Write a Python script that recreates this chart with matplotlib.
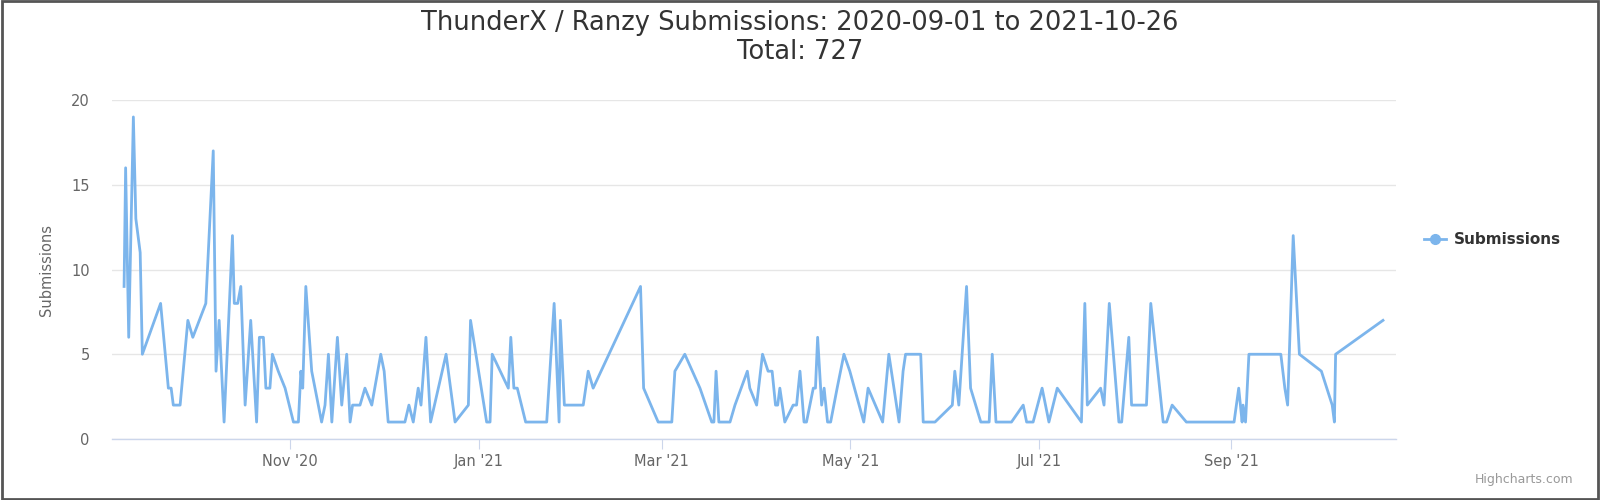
import matplotlib
matplotlib.use('Agg')
import matplotlib.pyplot as plt
import matplotlib.dates as mdates
from matplotlib.lines import Line2D
from matplotlib.patches import Rectangle
import pandas as pd

# days after 2020-09-01
days = [7.4, 7.9, 8.9, 10.4, 11.2, 12.6, 13.3, 19.2, 21.7, 22.6,
        23.3, 25.5, 28.0, 29.6, 33.8, 36.2, 37.1, 38.1, 39.7, 42.4,
        43.0, 44.1, 45.1, 46.5, 48.3, 50.2, 51.1, 52.4, 53.2, 54.5,
        55.3, 57.2, 59.4, 62.1, 63.7, 64.5, 65.1, 66.1, 68.0, 71.2,
        72.3, 73.4, 74.5, 76.3, 77.7, 79.3, 80.4, 81.2, 83.6, 85.2,
        87.4, 90.3, 91.4, 92.7, 98.1, 99.4, 100.8, 102.4, 103.3, 104.9,
        106.4, 111.4, 114.3, 118.6, 119.3, 124.5, 125.6, 126.3, 131.5, 132.3,
        133.3, 134.4, 137.1, 143.9, 146.3, 147.9, 148.3, 149.6, 155.7, 157.3,
        158.9, 174.2, 175.2, 179.9, 184.3, 185.3, 188.5, 193.4, 197.2, 197.9,
        198.6, 199.5, 203.1, 204.7, 208.7, 209.5, 211.7, 213.6, 215.4, 216.7,
        217.8, 218.5, 219.2, 220.8, 223.5, 224.6, 225.7, 227.0, 227.8, 230.0,
        230.7, 231.4, 232.7, 233.5, 234.6, 235.6, 237.7, 239.9, 241.8, 246.3,
        247.7, 252.4, 254.4, 257.7, 259.0, 259.8, 264.7, 265.5, 269.3, 274.9,
        275.7, 277.0, 279.5, 280.8, 284.1, 286.8, 287.8, 289.0, 294.0, 297.8,
        298.9, 301.0, 303.9, 306.1, 308.8, 316.6, 317.7, 318.5, 322.8, 323.9,
        325.6, 328.7, 329.6, 331.9, 332.8, 337.6, 339.0, 343.0, 344.1, 345.9,
        350.5, 365.9, 367.4, 368.5, 368.8, 369.6, 370.7, 381.0, 382.3, 383.2,
        385.0, 387.0, 394.1, 397.6, 398.3, 398.7, 414.0]
submissions = [9, 16, 6, 19, 13, 11, 5, 8, 3, 3,
               2, 2, 7, 6, 8, 17, 4, 7, 1, 12,
               8, 8, 9, 2, 7, 1, 6, 6, 3, 3,
               5, 4, 3, 1, 1, 4, 3, 9, 4, 1,
               2, 5, 1, 6, 2, 5, 1, 2, 2, 3,
               2, 5, 4, 1, 1, 2, 1, 3, 2, 6,
               1, 5, 1, 2, 7, 1, 1, 5, 3, 6,
               3, 3, 1, 1, 8, 1, 7, 2, 2, 4,
               3, 9, 3, 1, 1, 4, 5, 3, 1, 1,
               4, 1, 1, 2, 4, 3, 2, 5, 4, 4,
               2, 2, 3, 1, 2, 2, 4, 1, 1, 3,
               3, 6, 2, 3, 1, 1, 3, 5, 4, 1,
               3, 1, 5, 1, 4, 5, 5, 1, 1, 2,
               4, 2, 9, 3, 1, 1, 5, 1, 1, 2,
               1, 1, 3, 1, 3, 1, 8, 2, 3, 2,
               8, 1, 1, 6, 2, 2, 8, 1, 1, 2,
               1, 1, 3, 1, 2, 1, 5, 5, 3, 2,
               12, 5, 4, 2, 1, 5, 7]

title = 'ThunderX / Ranzy Submissions: 2020-09-01 to 2021-10-26'
subtitle = 'Total: 727'

start = pd.Timestamp('2020-09-01')
dates = start + pd.to_timedelta(days, unit='D')

plt.rcParams['font.family'] = ['DejaVu Sans']
fig = plt.figure(figsize=(16, 5), dpi=100)
ax = fig.add_axes([0.07, 0.122, 0.8025, 0.678])

blue = '#7cb5ec'
ax.plot(dates, submissions, color=blue, lw=2, solid_joinstyle='round')

ax.set_ylim(0, 20)
ax.set_yticks([0, 5, 10, 15, 20])
ax.set_xlim(start + pd.Timedelta(days=3.5), start + pd.Timedelta(days=418.2))
ax.xaxis.set_major_locator(mdates.MonthLocator(bymonth=[1, 3, 5, 7, 9, 11]))
ax.xaxis.set_major_formatter(mdates.DateFormatter("%b '%y"))

ax.grid(axis='y', color='#e6e6e6', lw=1)
ax.set_axisbelow(True)
for s in ['top', 'right', 'left']:
    ax.spines[s].set_visible(False)
ax.spines['bottom'].set_color('#ccd6eb')
ax.spines['bottom'].set_linewidth(1)
ax.tick_params(axis='y', length=0, pad=16, labelsize=10.5, labelcolor='#666666')
ax.tick_params(axis='x', length=7, width=0.8, color='#ccd6eb', pad=4,
               labelsize=10.5, labelcolor='#666666')
ax.set_ylabel('Submissions', fontsize=10.5, color='#666666', labelpad=12)

fig.text(0.5, 0.954, title, ha='center', va='center', fontsize=18.5, color='#333333')
fig.text(0.5, 0.896, subtitle, ha='center', va='center', fontsize=18.5, color='#333333')

# legend
fig.add_artist(Line2D([1424 / 1600, 1446 / 1600], [1 - 239 / 500] * 2, color=blue, lw=2))
fig.add_artist(Line2D([1435 / 1600], [1 - 239 / 500], color=blue, marker='o', markersize=7, lw=0))
fig.text(1454 / 1600, 1 - 239 / 500, 'Submissions', ha='left', va='center',
         fontsize=11, fontweight='bold', color='#333333')

fig.text(1573 / 1600, 1 - 479 / 500, 'Highcharts.com', ha='right', va='center',
         fontsize=9, color='#999999')

fig.add_artist(Rectangle((0.001, 0.002), 0.998, 0.996, transform=fig.transFigure,
                         fill=False, edgecolor='#555555', lw=2))

fig.savefig('out.png', dpi=100)
